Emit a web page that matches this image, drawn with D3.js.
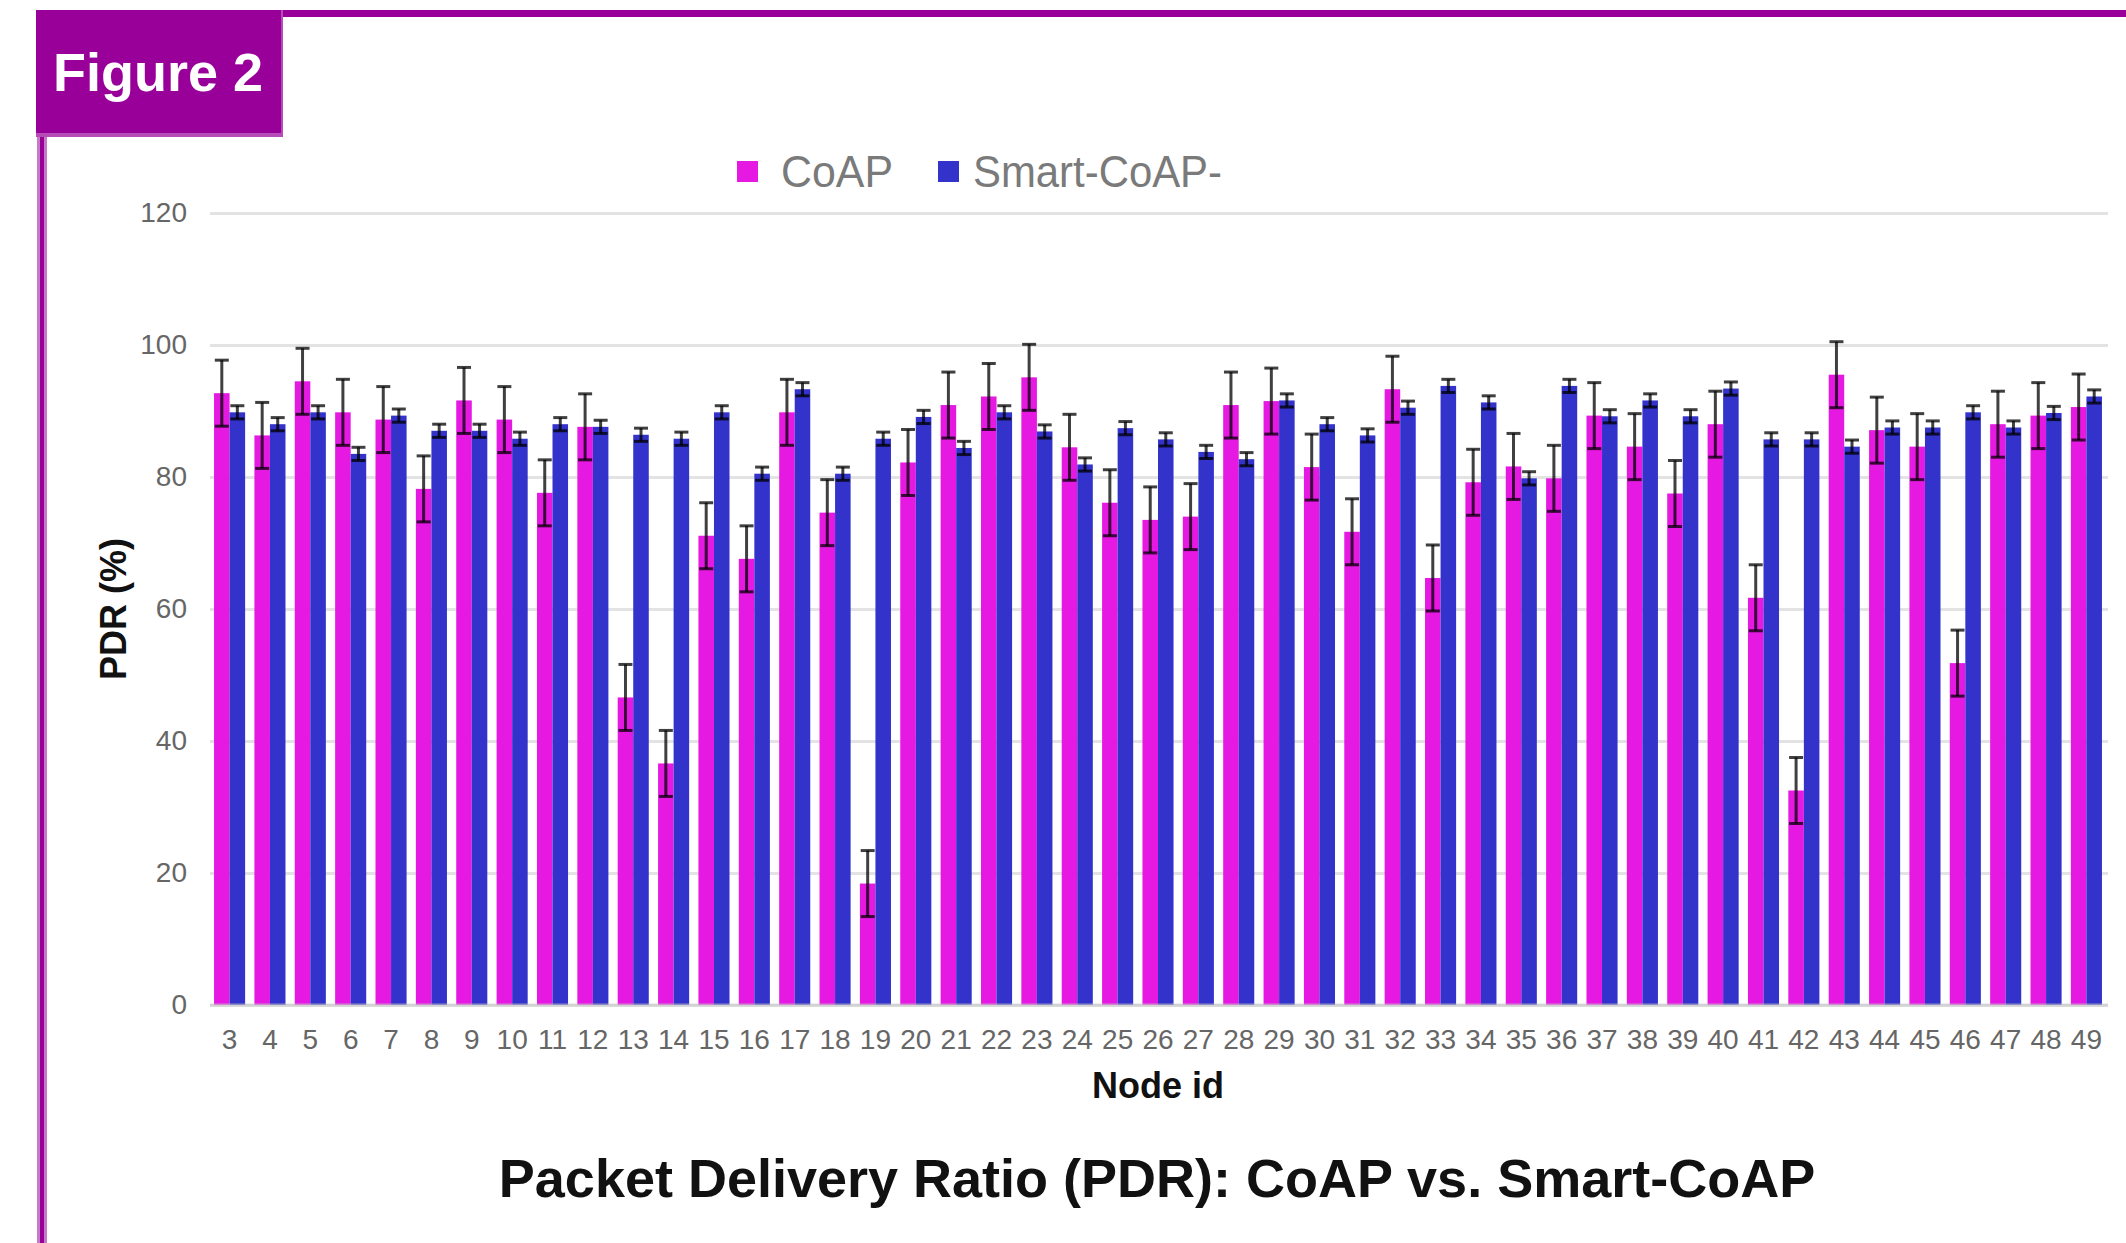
<!DOCTYPE html>
<html>
<head>
    <script src="https://d3js.org/d3.v7.min.js"></script>
    <style>
        body { margin: 0; background: #fff; }
        svg { display: block; font-family: Arial, "Liberation Sans", sans-serif; }
        .grid line { stroke: #e3e3e3; stroke-width: 3px; }
        .grid path { display: none; }
        .axis path { display: none; }
        .axis text { fill: #666; font-size: 28px; font-family: Arial, "Liberation Sans", sans-serif; }
        .err { stroke: #000; stroke-opacity: 0.75; stroke-width: 3px; }
        .legend text { fill: #7a7a7a; font-size: 44px; }
        .label { font-weight: bold; fill: #111; }
    </style>
</head>
<body>
    <svg width="2126" height="1243"></svg>
    <script>
        // node ids on the x axis
        var nodes = ["3", "4", "5", "6", "7", "8", "9", "10", "11", "12", "13", "14", "15", "16",
            "17", "18", "19", "20", "21", "22", "23", "24", "25", "26", "27", "28", "29", "30",
            "31", "32", "33", "34", "35", "36", "37", "38", "39", "40", "41", "42", "43", "44",
            "45", "46", "47", "48", "49"];

        // PDR (%) per node
        var coap = [92.7, 86.3, 94.5, 89.8, 88.7, 78.2, 91.6, 88.7, 77.6, 87.6, 46.6, 36.6, 71.1, 67.6,
            89.8, 74.6, 18.4, 82.2, 90.9, 92.2, 95.1, 84.5, 76.1, 73.5, 74.0, 90.9, 91.5, 81.5,
            71.7, 93.3, 64.7, 79.2, 81.6, 79.8, 89.3, 84.6, 77.5, 88.0, 61.7, 32.5, 95.5, 87.1,
            84.6, 51.8, 88.0, 89.3, 90.6];
        var smartCoap = [89.8, 88.0, 89.8, 83.5, 89.3, 87.0, 87.0, 85.8, 88.0, 87.6, 86.4, 85.8, 89.8, 80.5,
            93.3, 80.5, 85.8, 89.1, 84.4, 89.8, 86.9, 81.9, 87.4, 85.7, 83.8, 82.7, 91.6, 88.0,
            86.3, 90.5, 93.8, 91.3, 79.8, 93.8, 89.2, 91.6, 89.2, 93.4, 85.7, 85.7, 84.6, 87.5,
            87.5, 89.8, 87.5, 89.7, 92.2];

        // error bar half-widths
        var coapErr = 5;
        var smartErr = 1;

        var yTicks = [0, 20, 40, 60, 80, 100, 120];
        var seriesNames = ["CoAP", "Smart-CoAP-"];
        var colors = ["#e619e3", "#3333cc"];

        var svg = d3.select("svg");

        var plotLeft = 210, plotRight = 2108, plotTop = 213, plotBottom = 1005;

        var x0 = d3.scaleBand().domain(nodes).range([plotLeft, 2106]).paddingInner(0.23).paddingOuter(0.1);
        var x1 = d3.scaleBand().domain(seriesNames).range([0, x0.bandwidth()]);
        var y = d3.scaleLinear().domain([0, 120]).range([plotBottom, plotTop]);

        // grid
        svg.append("g")
            .attr("class", "grid")
            .attr("transform", "translate(" + plotLeft + ",0)")
            .call(d3.axisLeft(y).tickValues(yTicks).tickSize(-(plotRight - plotLeft)).tickFormat(""));

        // bars
        var rows = nodes.map(function(n, i) {
            return { node: n, values: [coap[i], smartCoap[i]], errs: [coapErr, smartErr] };
        });

        var group = svg.append("g").selectAll("g")
            .data(rows)
            .enter().append("g")
            .attr("transform", function(d) { return "translate(" + x0(d.node) + ",0)"; });

        group.selectAll("rect")
            .data(function(d) { return d.values.map(function(v, k) { return { k: k, v: v }; }); })
            .enter().append("rect")
            .attr("x", function(d) { return x1(seriesNames[d.k]); })
            .attr("y", function(d) { return y(d.v); })
            .attr("width", x1.bandwidth())
            .attr("height", function(d) { return y(0) - y(d.v); })
            .attr("fill", function(d) { return colors[d.k]; });

        // error bars
        var errs = group.selectAll("g.e")
            .data(function(d) { return d.values.map(function(v, k) { return { k: k, v: v, e: d.errs[k] }; }); })
            .enter().append("g")
            .attr("class", "e");

        var cap = 7;
        function cx(d) { return x1(seriesNames[d.k]) + x1.bandwidth() / 2; }
        errs.append("line").attr("class", "err")
            .attr("x1", cx).attr("x2", cx)
            .attr("y1", function(d) { return y(d.v + d.e); })
            .attr("y2", function(d) { return y(d.v - d.e); });
        errs.append("line").attr("class", "err")
            .attr("x1", function(d) { return cx(d) - cap; })
            .attr("x2", function(d) { return cx(d) + cap; })
            .attr("y1", function(d) { return y(d.v + d.e); })
            .attr("y2", function(d) { return y(d.v + d.e); });
        errs.append("line").attr("class", "err")
            .attr("x1", function(d) { return cx(d) - cap; })
            .attr("x2", function(d) { return cx(d) + cap; })
            .attr("y1", function(d) { return y(d.v - d.e); })
            .attr("y2", function(d) { return y(d.v - d.e); });

        // baseline over the bars
        svg.append("line")
            .attr("x1", plotLeft).attr("x2", plotRight)
            .attr("y1", y(0)).attr("y2", y(0))
            .attr("stroke", "#c8c8c8").attr("stroke-opacity", 0.6).attr("stroke-width", 3);

        // axes
        svg.append("g")
            .attr("class", "axis")
            .attr("transform", "translate(" + plotLeft + ",0)")
            .call(d3.axisLeft(y).tickValues(yTicks).tickSize(0).tickPadding(23));

        svg.append("g")
            .attr("class", "axis")
            .attr("transform", "translate(0," + plotBottom + ")")
            .call(d3.axisBottom(x0).tickSize(0).tickPadding(24));

        // axis titles
        svg.append("text")
            .attr("class", "label")
            .attr("x", 1158).attr("y", 1098)
            .attr("text-anchor", "middle")
            .style("font-size", "36px")
            .text("Node id");

        svg.append("text")
            .attr("class", "label")
            .attr("transform", "translate(126,609) rotate(-90)")
            .attr("text-anchor", "middle")
            .style("font-size", "36px")
            .text("PDR (%)");

        svg.append("text")
            .attr("class", "label")
            .attr("x", 1157).attr("y", 1197)
            .attr("text-anchor", "middle")
            .style("font-size", "54px")
            .text("Packet Delivery Ratio (PDR): CoAP vs. Smart-CoAP");

        // legend
        var legendX = [737, 938], legendTextX = [781, 973], legendLen = [112, 249];
        var legend = svg.append("g").attr("class", "legend");
        seriesNames.forEach(function(name, k) {
            legend.append("rect")
                .attr("x", legendX[k]).attr("y", 161)
                .attr("width", 21).attr("height", 21)
                .attr("fill", colors[k]);
            legend.append("text")
                .attr("x", legendTextX[k]).attr("y", 187)
                .attr("textLength", legendLen[k])
                .attr("lengthAdjust", "spacingAndGlyphs")
                .text(name);
        });

        // purple frame and figure tag
        svg.append("rect").attr("x", 36).attr("y", 10).attr("width", 2090).attr("height", 7).attr("fill", "#990099");
        svg.append("rect").attr("x", 37).attr("y", 10).attr("width", 10).attr("height", 1233).attr("fill", "#c67ac6");
        svg.append("rect").attr("x", 40).attr("y", 10).attr("width", 4).attr("height", 1233).attr("fill", "#990099");
        svg.append("rect").attr("x", 36).attr("y", 10).attr("width", 247).attr("height", 127).attr("fill", "#b64cb6");
        svg.append("rect").attr("x", 36).attr("y", 10).attr("width", 245).attr("height", 123).attr("fill", "#990099");
        svg.append("text")
            .attr("x", 53).attr("y", 91)
            .attr("fill", "#fff")
            .style("font-size", "54px")
            .style("font-weight", "bold")
            .text("Figure 2");
    </script>
</body>
</html>
